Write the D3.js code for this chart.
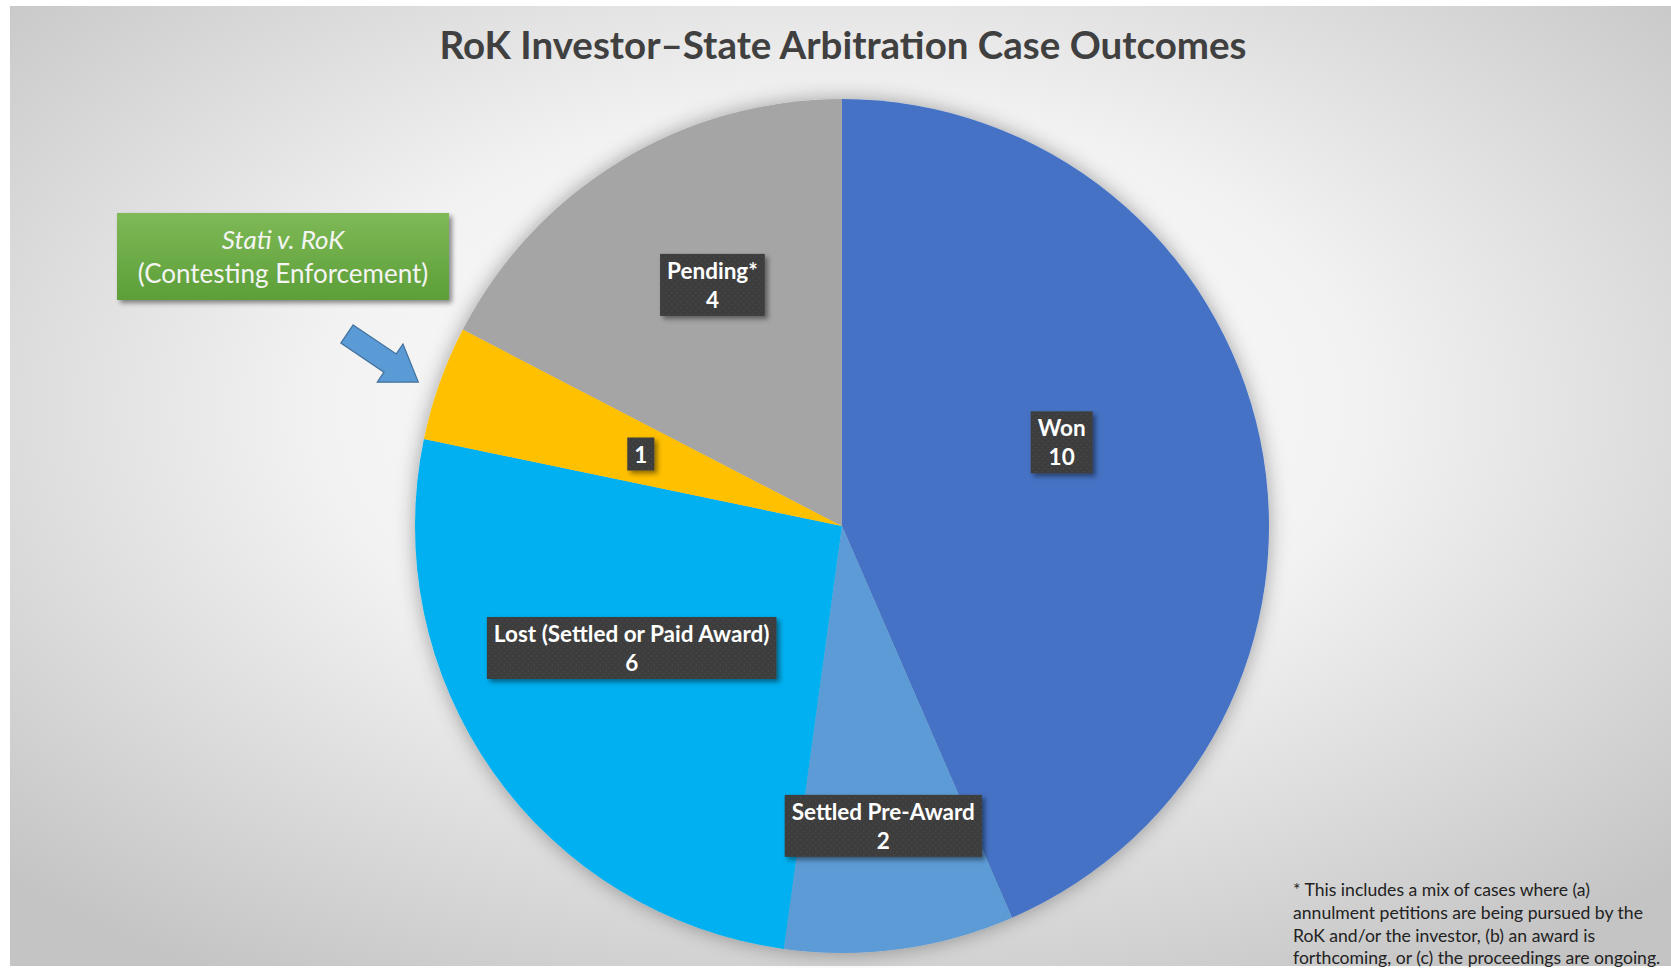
<!DOCTYPE html>
<html>
<head>
<meta charset="utf-8">
<script src="https://cdn.jsdelivr.net/npm/d3@7"></script>
<style>
  html, body { margin: 0; padding: 0; background: #fff; }
  svg { display: block; }
  text { font-family: Lato, "Open Sans", sans-serif; }
</style>
</head>
<body>
<svg id="chart" width="1671" height="968"></svg>
<script>
// --- Chart data ---
const title = 'RoK Investor\u2013State Arbitration Case Outcomes';
const categories = ['Won', 'Settled Pre-Award', 'Lost (Settled or Paid Award)', 'Stati v. RoK', 'Pending*'];
const values = [10, 2, 6, 1, 4];
const labelNames = ['Won', 'Settled Pre-Award', 'Lost (Settled or Paid Award)', '', 'Pending*'];
const colors = ['#4472C4', '#5B9BD5', '#00B0F0', '#FFC000', '#A5A5A5'];
const calloutLines = ['Stati v. RoK', '(Contesting Enforcement)'];
const footnoteLines = [
  '* This includes a mix of cases where (a)',
  'annulment petitions are being pursued by the',
  'RoK and/or the investor, (b) an award is',
  'forthcoming, or (c) the proceedings are ongoing.'
];

// Label placement (layout only): radius fraction + angle nudge (deg) per slice
const labelRadius = [0.55, 0.71, 0.57, 0.5, 0.64];
const labelNudge = [-9, 0, 5, 0, 3];

const width = 1671, height = 968;
const cx = 842, cy = 526, R = 427;

const svg = d3.select('#chart');
const defs = svg.append('defs');

// Background gradient
const bg = defs.append('radialGradient').attr('id', 'bg')
  .attr('cx', '50%').attr('cy', '42%').attr('r', '70%');
bg.append('stop').attr('offset', '0%').attr('stop-color', '#ffffff');
bg.append('stop').attr('offset', '45%').attr('stop-color', '#f2f2f2');
bg.append('stop').attr('offset', '100%').attr('stop-color', '#c4c4c4');

// Soft halo around the pie
const halo = defs.append('filter').attr('id', 'halo')
  .attr('x', '-20%').attr('y', '-20%').attr('width', '140%').attr('height', '140%');
halo.append('feGaussianBlur').attr('in', 'SourceAlpha').attr('stdDeviation', 10).attr('result', 'b');
halo.append('feFlood').attr('flood-color', '#000').attr('flood-opacity', 0.35);
halo.append('feComposite').attr('in2', 'b').attr('operator', 'in').attr('result', 's');
const hm = halo.append('feMerge');
hm.append('feMergeNode').attr('in', 's');
hm.append('feMergeNode').attr('in', 'SourceGraphic');

// Drop shadow for boxes
const shadow = defs.append('filter').attr('id', 'shadow')
  .attr('x', '-20%').attr('y', '-20%').attr('width', '150%').attr('height', '160%');
shadow.append('feGaussianBlur').attr('in', 'SourceAlpha').attr('stdDeviation', 2.5).attr('result', 'b');
shadow.append('feOffset').attr('in', 'b').attr('dx', 3).attr('dy', 3).attr('result', 'o');
shadow.append('feFlood').attr('flood-color', '#000').attr('flood-opacity', 0.45);
shadow.append('feComposite').attr('in2', 'o').attr('operator', 'in').attr('result', 's');
const sm = shadow.append('feMerge');
sm.append('feMergeNode').attr('in', 's');
sm.append('feMergeNode').attr('in', 'SourceGraphic');

// Dotted dark pattern for data labels
const dots = defs.append('pattern').attr('id', 'dots')
  .attr('width', 6).attr('height', 6).attr('patternUnits', 'userSpaceOnUse');
dots.append('rect').attr('width', 6).attr('height', 6).attr('fill', '#3c3c3c');
dots.append('circle').attr('cx', 1.5).attr('cy', 1.5).attr('r', 0.8).attr('fill', '#4e4e4e');
dots.append('circle').attr('cx', 4.5).attr('cy', 4.5).attr('r', 0.8).attr('fill', '#4e4e4e');

// Green callout gradient
const green = defs.append('linearGradient').attr('id', 'green')
  .attr('x1', 0).attr('y1', 0).attr('x2', 0).attr('y2', 1);
green.append('stop').attr('offset', '0%').attr('stop-color', '#7eba57');
green.append('stop').attr('offset', '100%').attr('stop-color', '#5c9e37');

// Background
svg.append('rect').attr('x', 10).attr('y', 6)
  .attr('width', width - 10).attr('height', height - 8)
  .attr('fill', 'url(#bg)');

// Title
svg.append('text')
  .attr('x', 843).attr('y', 59)
  .attr('text-anchor', 'middle')
  .attr('font-size', 38.5).attr('font-weight', 700)
  .attr('fill', '#404040')
  .text(title);

// Pie
const pie = d3.pie().sort(null).value(d => d)
  .startAngle(0).endAngle(2 * Math.PI);
const arcs = pie(values);
const arc = d3.arc().innerRadius(0).outerRadius(R);

const g = svg.append('g').attr('transform', `translate(${cx},${cy})`);
g.append('g').attr('filter', 'url(#halo)')
  .selectAll('path')
  .data(arcs)
  .join('path')
  .attr('d', arc)
  .attr('fill', (d, i) => colors[i]);

// Data labels
const lineH = 29;
arcs.forEach((d, i) => {
  const mid = (d.startAngle + d.endAngle) / 2 + labelNudge[i] * Math.PI / 180;
  const r = R * labelRadius[i];
  const x = cx + r * Math.sin(mid);
  const y = cy - r * Math.cos(mid);
  const lines = labelNames[i] ? [labelNames[i], String(values[i])] : [String(values[i])];

  const lg = svg.append('g').attr('transform', `translate(${x},${y})`);
  const rect = lg.append('rect').attr('fill', 'url(#dots)').attr('filter', 'url(#shadow)');
  const t = lg.append('text')
    .attr('text-anchor', 'middle')
    .attr('font-size', 22.5).attr('font-weight', 700)
    .attr('fill', '#ffffff');
  lines.forEach((ln, j) => {
    t.append('tspan')
      .attr('x', 0)
      .attr('y', (j - (lines.length - 1) / 2) * lineH + 8)
      .text(ln);
  });
  const bb = t.node().getBBox();
  const padX = 7, padY = 3;
  rect.attr('x', bb.x - padX).attr('y', bb.y - padY)
    .attr('width', bb.width + 2 * padX).attr('height', bb.height + 2 * padY);
});

// Callout box
const cg = svg.append('g').attr('transform', 'translate(117,213)');
cg.append('rect').attr('width', 332).attr('height', 87)
  .attr('fill', 'url(#green)').attr('filter', 'url(#shadow)');
cg.append('text')
  .attr('x', 166).attr('y', 36)
  .attr('text-anchor', 'middle')
  .attr('font-size', 26).attr('font-style', 'italic')
  .attr('fill', '#f4f4f4')
  .text(calloutLines[0]);
cg.append('text')
  .attr('x', 166).attr('y', 70)
  .attr('text-anchor', 'middle')
  .attr('font-size', 26)
  .attr('fill', '#f4f4f4')
  .text(calloutLines[1]);

// Arrow pointing at the small slice
const arrowLen = 86, shaftW = 22, headW = 46, headLen = 34;
const arrowPts = [
  [0, -shaftW / 2], [arrowLen - headLen, -shaftW / 2], [arrowLen - headLen, -headW / 2],
  [arrowLen, 0],
  [arrowLen - headLen, headW / 2], [arrowLen - headLen, shaftW / 2], [0, shaftW / 2]
];
svg.append('path')
  .attr('transform', 'translate(347,334) rotate(34)')
  .attr('d', d3.line()(arrowPts) + 'Z')
  .attr('fill', '#5b9bd5')
  .attr('stroke', '#41719c')
  .attr('stroke-width', 1.2);

// Footnote
const fn = svg.append('text')
  .attr('font-size', 17.6)
  .attr('fill', '#222');
footnoteLines.forEach((ln, i) => {
  fn.append('tspan').attr('x', 1293).attr('y', 896 + i * 22.8).text(ln);
});
</script>
</body>
</html>
